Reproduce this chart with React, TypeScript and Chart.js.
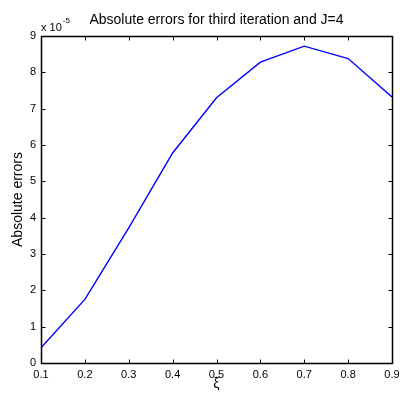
import React, { useEffect, useRef } from "react";
import { Chart, registerables } from "chart.js";

Chart.register(...registerables);

const xValues = [0.1, 0.2, 0.3, 0.4, 0.5, 0.6, 0.7, 0.8, 0.9];
// absolute errors in units of 10^-5
const errorValues = [0.42, 1.75, 3.72, 5.78, 7.3, 8.28, 8.72, 8.38, 7.32];
const exponent = -5;
const yTickMin = 0;
const yTickMax = 9;
const titleText = "Absolute errors for third iteration and J=4";
const yTitle = "Absolute errors";
const xTitle = "ξ";

const FONT = "'Liberation Sans', Arial, Helvetica, sans-serif";

const boxPlugin = {
  id: "matlabBox",
  afterDraw(chart: any) {
    const { ctx, chartArea } = chart;
    const { left, right, top, bottom } = chartArea;
    const xs = chart.scales.x;
    const ys = chart.scales.y;
    const tl = 4;
    ctx.save();
    ctx.strokeStyle = "#000";
    ctx.lineWidth = 1.5;
    ctx.beginPath();
    const L = Math.round(left) + 0.5;
    const R = Math.round(right) + 0.5;
    const T = Math.round(top) + 0.5;
    const B = Math.round(bottom) + 0.5;
    ctx.rect(L, T, R - L, B - T);
    ctx.stroke();
    ctx.lineWidth = 1;
    ctx.beginPath();
    xs.ticks.forEach((t: any) => {
      const px = Math.round(xs.getPixelForValue(t.value)) + 0.5;
      ctx.moveTo(px, B);
      ctx.lineTo(px, B - tl);
      ctx.moveTo(px, T);
      ctx.lineTo(px, T + tl);
    });
    ys.ticks.forEach((t: any) => {
      const py = Math.round(ys.getPixelForValue(t.value)) + 0.5;
      ctx.moveTo(L, py);
      ctx.lineTo(L + tl, py);
      ctx.moveTo(R, py);
      ctx.lineTo(R - tl, py);
    });
    ctx.stroke();
    // exponent label
    ctx.fillStyle = "#000";
    ctx.textBaseline = "alphabetic";
    ctx.textAlign = "left";
    ctx.font = `11px ${FONT}`;
    const base = "x 10";
    ctx.fillText(base, left, top - 5);
    const w = ctx.measureText(base).width;
    ctx.font = `8px ${FONT}`;
    ctx.fillText(String(exponent), left + w + 1, top - 13);
    ctx.restore();
  },
};

export default function App() {
  const ref = useRef<HTMLCanvasElement>(null);
  useEffect(() => {
    if (!ref.current) return;
    const chart = new Chart(ref.current, {
      type: "line",
      data: {
        datasets: [
          {
            data: xValues.map((x, i) => ({ x, y: errorValues[i] })),
            borderColor: "#0000ff",
            borderWidth: 1.4,
            pointRadius: 0,
            tension: 0,
            fill: false,
          },
        ],
      },
      options: {
        responsive: false,
        animation: false,
        layout: { padding: { left: 0, right: 10, top: 0, bottom: 0 } },
        plugins: {
          legend: { display: false },
          tooltip: { enabled: false },
          title: {
            display: true,
            text: titleText,
            fullSize: false,
            color: "#000",
            font: { family: FONT, size: 14, weight: "normal", lineHeight: 1.2 },
            padding: { top: 12, bottom: 7.2 },
          },
        },
        scales: {
          x: {
            type: "linear",
            min: xValues[0],
            max: xValues[xValues.length - 1],
            grid: { display: false, drawTicks: false },
            border: { display: false },
            ticks: {
              stepSize: 0.1,
              color: "#000",
              font: { family: FONT, size: 11 },
              padding: 5,
              maxRotation: 0,
              callback: (v: any) => Number(v).toFixed(1),
            },
            title: {
              display: true,
              text: xTitle,
              color: "#000",
              font: { family: FONT, size: 14, lineHeight: 1.2 },
              padding: { top: 0, bottom: 2 },
            },
            afterFit: (s: any) => {
              s.height = 32;
              s.paddingLeft = 0;
              s.paddingRight = 0;
            },
          },
          y: {
            type: "linear",
            min: yTickMin,
            max: yTickMax,
            grid: { display: false, drawTicks: false },
            border: { display: false },
            ticks: {
              stepSize: 1,
              color: "#000",
              font: { family: FONT, size: 11 },
              padding: 5,
            },
            title: {
              display: true,
              text: yTitle,
              color: "#000",
              font: { family: FONT, size: 14, lineHeight: 1.2 },
              padding: { top: 9.6, bottom: 0 },
            },
            afterFit: (s: any) => {
              s.width = 41;
              s.paddingTop = 0;
              s.paddingBottom = 0;
            },
          },
        },
      },
      plugins: [boxPlugin],
    });
    return () => chart.destroy();
  }, []);
  return (
    <div style={{ position: "fixed", left: 0, top: 0, width: 402, height: 395, background: "#fff" }}>
      <canvas ref={ref} width={402} height={395} style={{ width: 402, height: 395, display: "block" }} />
    </div>
  );
}
